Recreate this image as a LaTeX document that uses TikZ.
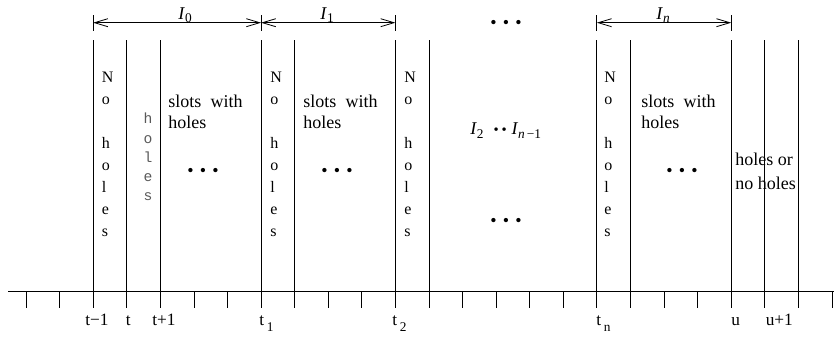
\documentclass[tikz,border=0pt]{standalone}
\usepackage{fontspec}
\setmainfont{Liberation Serif}
\setmonofont{Liberation Mono}
\usetikzlibrary{arrows.meta}
\newcommand\nohstack{N\\o\\[16.5pt]h\\o\\l\\e\\s}
\newcommand\threedots{\textbullet\hspace{4.7pt}\textbullet\hspace{4.7pt}\textbullet}
\newcommand\subsz{\fontsize{10}{12}\selectfont}
\begin{document}
\begin{tikzpicture}[x=0.75pt,y=-0.75pt,
  ln/.style={line width=0.6pt},
  dimline/.style={line width=0.6pt,{Straight Barb[length=10pt,width=6pt]}-{Straight Barb[length=10pt,width=6pt]}},
  lbl/.style={inner sep=0pt,font=\fontsize{13.5}{16}\selectfont},
  ticklbl/.style={inner sep=0pt,anchor=base west,font=\fontsize{13}{15}\selectfont},
  nstack/.style={inner sep=0pt,anchor=north west,align=left,font=\fontsize{12}{16.5}\selectfont},
  mstack/.style={inner sep=0pt,anchor=north,align=center,text=black!65,font=\ttfamily\fontsize{11}{14.4}\selectfont},
  slot/.style={inner sep=0pt,anchor=north west,align=left,font=\fontsize{13.5}{15.75}\selectfont},
  dotsn/.style={inner sep=0pt,font=\fontsize{13.5}{16}\selectfont}
]
\useasboundingbox (0,0) rectangle (834,339);

% axis and ticks
\coordinate (axL) at (8,291);
\coordinate (axR) at (834,291);
\draw[ln] (axL) -- (axR);
\foreach \k in {0,...,24} {
  \coordinate (b\k) at ({26+33.58*\k},291);
  \coordinate (e\k) at ({26+33.58*\k},308);
  \draw[ln] (b\k) -- (e\k);
}
% tall vertical lines
\foreach \k in {2,3,4,7,8,11,12,17,18,21,22,23} {
  \coordinate (top\k) at ({26+33.58*\k},40);
  \draw[ln] (top\k) -- (b\k);
}
% interval arrows with end bars
\foreach \k in {2,7,11,17,21} {
  \coordinate (a\k) at ({26+33.58*\k},22.7);
  \coordinate (bu\k) at ({26+33.58*\k},15);
  \coordinate (bd\k) at ({26+33.58*\k},31);
  \draw[ln] (bu\k) -- (bd\k);
}
\draw[dimline] (a2) -- (a7);
\draw[dimline] (a7) -- (a11);
\draw[dimline] (a17) -- (a21);

\node[lbl,anchor=base] (I0) at (185,19) {\textit{I}\raisebox{-2.5pt}{\subsz 0}};
\node[lbl,anchor=base] (I1) at (327,19) {\textit{I}\raisebox{-2.5pt}{\subsz 1}};
\node[lbl,anchor=base] (In) at (663,19) {\textit{I}\raisebox{-2.5pt}{\subsz\textit{n}}};
\node[dotsn] (dtop) at (506,24) {\threedots};

% column texts
\node[nstack] (nh1) at (101.5,72) {\nohstack};
\node[mstack] (mh) at (148,113) {h\\o\\l\\e\\s};
\node[slot] (s1) at (168,95) {slots\hspace{7pt}with\\holes};
\node[dotsn] (d1) at (203,172) {\threedots};

\node[nstack] (nh2) at (270,72) {\nohstack};
\node[slot] (s2) at (303,95) {slots\hspace{7pt}with\\holes};
\node[dotsn] (d2) at (337,172) {\threedots};

\node[nstack] (nh3) at (404,72) {\nohstack};
\node[lbl,anchor=base west] (mid) at (470,134) {\textit{I}\raisebox{-3pt}{\subsz 2}\hspace{7.5pt}{\fontsize{11}{12}\selectfont\textbullet\hspace{2.2pt}\textbullet}\hspace{3.5pt}\textit{I}\raisebox{-3pt}{\subsz\textit{n}\hspace{1.5pt}−1}};
\node[dotsn] (dmid) at (506,222) {\threedots};

\node[nstack] (nh4) at (604,72) {\nohstack};
\node[slot] (s3) at (641,95) {slots\hspace{7pt}with\\holes};
\node[dotsn] (d3) at (682,172) {\threedots};

\node[slot,font=\fontsize{13.5}{17.5}\selectfont] (hn) at (735,153) {holes or\\no holes};

% tick labels
\node[ticklbl] (ltm) at (85,325) {t−1};
\node[ticklbl] (lt) at (125.5,325) {t};
\node[ticklbl] (ltp) at (152,325) {t+1};
\node[ticklbl] (lt1) at (259,325) {t\hspace{2pt}\raisebox{-4.5pt}{\subsz 1}};
\node[ticklbl] (lt2) at (392,325) {t\hspace{2pt}\raisebox{-4.5pt}{\subsz 2}};
\node[ticklbl] (ltn) at (596,325) {t\hspace{2pt}\raisebox{-4.5pt}{\subsz n}};
\node[ticklbl] (lu) at (731,325) {u};
\node[ticklbl] (lup) at (765.5,325) {u+1};
\end{tikzpicture}
\end{document}
